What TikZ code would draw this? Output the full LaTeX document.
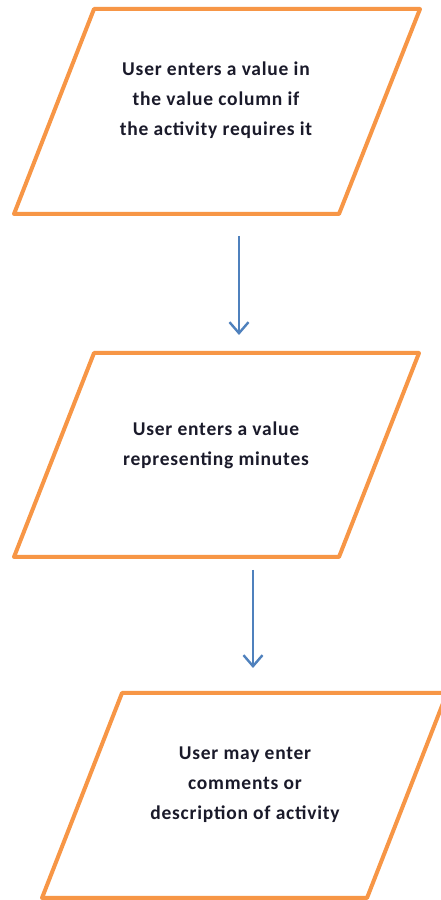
\documentclass[tikz,border=0pt]{standalone}
\usepackage{fontspec}
\setmainfont{Carlito}
\newfontfamily\labelfont[LetterSpace=4]{Carlito}
\usetikzlibrary{arrows.meta}
\definecolor{boxorange}{HTML}{F79646}
\definecolor{flowblue}{HTML}{4F81BD}
\definecolor{textdark}{HTML}{1A1A2A}
\begin{document}
\begin{tikzpicture}[x=1pt,y=1pt,
  inputbox/.style={draw=boxorange,line width=4pt,line join=round,fill=white},
  label/.style={align=center,text=textdark,font=\labelfont\bfseries\fontsize{19.5}{30}\selectfont},
  flow/.style={draw=flowblue,line width=2.4pt,-{Straight Barb[length=11pt,width=19pt,line width=2.4pt]}}]
\useasboundingbox (0,0) rectangle (441,900);
\fill[white] (0,0) rectangle (441,900);

% first input step
\coordinate (p1a) at (94,891);
\coordinate (p1b) at (420,891);
\coordinate (p1c) at (339,686);
\coordinate (p1d) at (14,686);
\draw[inputbox] (p1a) -- (p1b) -- (p1c) -- (p1d) -- cycle;
\node[label] (t1) at (216,800) {User enters a value in\\the value column if\\the activity requires it};

% second input step
\coordinate (p2a) at (94,547);
\coordinate (p2b) at (419,547);
\coordinate (p2c) at (339,343);
\coordinate (p2d) at (14,343);
\draw[inputbox] (p2a) -- (p2b) -- (p2c) -- (p2d) -- cycle;
\node[label] (t2) at (216,455) {User enters a value\\representing minutes};

% third input step
\coordinate (p3a) at (122,207);
\coordinate (p3b) at (447,207);
\coordinate (p3c) at (367,2);
\coordinate (p3d) at (42,2);
\draw[inputbox] (p3a) -- (p3b) -- (p3c) -- (p3d) -- cycle;
\node[label] (t3) at (245,115) {User may enter\\comments or\\description of activity};

% connectors
\coordinate (a1s) at (239,664);
\coordinate (a1e) at (239,565);
\coordinate (a2s) at (253,330);
\coordinate (a2e) at (253,232);
\draw[flow] (a1s) -- (a1e);
\draw[flow] (a2s) -- (a2e);
\end{tikzpicture}
\end{document}
